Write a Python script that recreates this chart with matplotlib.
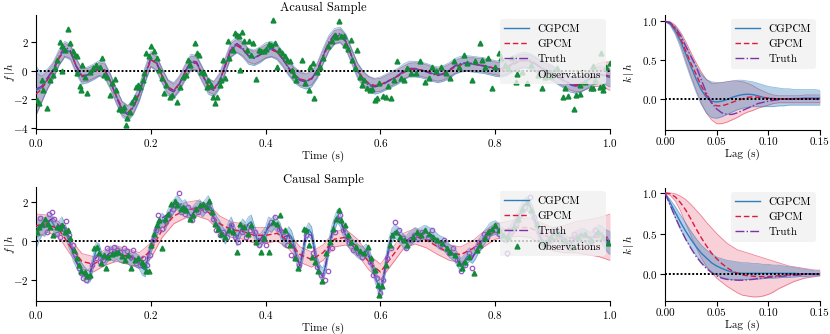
import numpy as np
import matplotlib
matplotlib.use('Agg')
from matplotlib import pyplot as plt

plt.rcParams.update({
    'font.family': 'serif',
    'font.serif': ['cmr10'],
    'mathtext.fontset': 'cm',
    'axes.formatter.use_mathtext': True,
    'font.size': 8,
})

BLUE = '#2f7dbd'
RED = '#e0183c'
PURPLE = '#7d32a8'
GREEN = '#138a3a'
PURPLE_OBS = '#9b59c6'

##### Acausal sample (top), grid step 0.01
cg_top = [-1.4, -1.2, -0.6, 0.0, 0.9, 1.5, 1.3, 0.3, -0.4, -0.3,
          -0.1, 0.15, 0.0, -0.8, -1.8, -2.7, -3.0, -2.5, -1.6, -0.3,
          0.8, 0.5, -0.4, -1.2, -1.4, -0.9, -0.1, 0.6, 0.5, -0.3,
          -1.1, -1.3, -0.7, 0.4, 1.5, 1.8, 1.5, 1.0, 0.9, 1.1,
          1.4, 1.5, 1.3, 0.8, 0.2, -0.3, -0.6, -0.75, -0.6, 0.0,
          1.0, 1.9, 2.4, 2.5, 2.0, 1.0, 0.0, -0.6, -0.95, -1.1,
          -1.0, -0.8, -0.6, -0.4, -0.1, 0.1, 0.1, 0.05, -0.05, -0.2,
          -0.3, -0.2, 0.0, 0.3, 0.45, 0.5, 0.45, 0.4, 0.35, 0.25,
          0.15, 0.1, 0.2, 0.45, 0.65, 0.75, 0.65, 0.45, 0.2, 0.0,
          -0.2, -0.45, -0.7, -0.95, -1.05, -0.95, -0.7, -0.45, -0.3, -0.35,
          -0.5]
gp_top = [-1.65, -1.3, -0.65, 0.0, 0.85, 1.45, 1.3, 0.35, -0.35, -0.3,
          -0.1, 0.1, 0.0, -0.8, -1.8, -2.65, -2.95, -2.5, -1.6, -0.35,
          0.75, 0.5, -0.4, -1.15, -1.4, -0.9, -0.1, 0.55, 0.5, -0.3,
          -1.05, -1.25, -0.7, 0.35, 1.45, 1.75, 1.5, 1.05, 0.9, 1.1,
          1.35, 1.45, 1.3, 0.8, 0.2, -0.3, -0.6, -0.7, -0.55, 0.0,
          0.95, 1.85, 2.35, 2.45, 2.0, 1.0, 0.05, -0.55, -0.9, -1.05,
          -1.0, -0.8, -0.6, -0.4, -0.15, 0.05, 0.1, 0.05, -0.05, -0.2,
          -0.3, -0.2, 0.0, 0.25, 0.4, 0.45, 0.45, 0.4, 0.35, 0.25,
          0.15, 0.1, 0.2, 0.4, 0.6, 0.7, 0.65, 0.45, 0.2, 0.0,
          -0.2, -0.45, -0.7, -0.9, -1.0, -0.9, -0.7, -0.45, -0.3, -0.3,
          -0.4]
truth_top = [-1.3, -1.1, -0.5, 0.1, 1.0, 1.7, 1.4, 0.3, -0.45, -0.3,
             -0.05, 0.25, 0.05, -0.8, -1.9, -2.8, -3.1, -2.6, -1.6, -0.25,
             0.9, 0.6, -0.4, -1.3, -1.5, -0.95, -0.05, 0.7, 0.6, -0.3,
             -1.2, -1.4, -0.75, 0.45, 1.6, 1.9, 1.6, 1.05, 0.85, 1.1,
             1.45, 1.6, 1.35, 0.8, 0.15, -0.35, -0.7, -0.8, -0.6, 0.05,
             1.05, 2.0, 2.55, 2.6, 2.05, 1.0, -0.05, -0.7, -1.05, -1.15,
             -1.05, -0.85, -0.6, -0.35, -0.05, 0.15, 0.15, 0.05, -0.1, -0.25,
             -0.35, -0.25, 0.05, 0.35, 0.5, 0.55, 0.5, 0.4, 0.3, 0.2,
             0.1, 0.1, 0.25, 0.5, 0.75, 0.85, 0.75, 0.5, 0.2, -0.05,
             -0.25, -0.5, -0.75, -1.0, -1.1, -1.0, -0.7, -0.4, -0.25, -0.3,
             -0.5]
cg_sd_top = [1.7, 1.0, 0.7, 0.6] + [0.55] * 93 + [0.55, 0.6, 0.6, 0.65]
gp_sd_top = [1.5, 0.9, 0.6, 0.5] + [0.45] * 90 + [0.5, 0.55, 0.6, 0.7, 0.8, 0.9, 1.0]

obs_top = [(0.002, -2.07), (0.006, -2.3), (0.01, -0.66), (0.013, -1.36), (0.019, -2.66),
           (0.024, -0.66), (0.03, -0.3), (0.033, 0.16), (0.037, 0.75), (0.041, 1.98),
           (0.045, 1.7), (0.046, 0.0), (0.05, 1.46), (0.056, 2.9), (0.059, 1.93),
           (0.064, 1.34), (0.068, 1.1), (0.071, 1.0), (0.072, -0.19), (0.077, -1.08),
           (0.079, -1.36), (0.08, 0.4), (0.085, -0.42), (0.089, -1.55), (0.094, -0.07),
           (0.1, 0.16), (0.105, 0.4), (0.111, 0.28), (0.115, 0.87), (0.118, -0.3),
           (0.123, -0.42), (0.129, -1.72), (0.132, -0.89), (0.137, -0.59), (0.14, -1.36),
           (0.145, -2.73), (0.149, -2.78), (0.153, -2.54), (0.156, -3.84), (0.158, -3.36),
           (0.163, -2.89), (0.168, -2.19), (0.172, -1.84), (0.175, -1.13), (0.178, -1.01),
           (0.181, -1.13), (0.186, -0.66), (0.188, -0.14), (0.192, 1.22), (0.197, 0.99),
           (0.201, 1.7), (0.205, 1.34), (0.21, 0.87), (0.214, 0.05), (0.219, -0.54),
           (0.223, -1.6), (0.227, -1.01), (0.233, -1.84), (0.237, -1.72), (0.245, -2.19),
           (0.25, -1.18), (0.256, -0.42), (0.261, -0.3), (0.265, 0.75), (0.269, 0.4),
           (0.277, 1.93), (0.281, 1.22), (0.284, 1.1), (0.288, -0.07), (0.292, -0.19),
           (0.297, -1.18), (0.3, -0.66), (0.304, -1.01), (0.308, -1.84), (0.312, -2.3),
           (0.316, -1.88), (0.32, -1.01), (0.323, -0.66), (0.326, 0.75), (0.329, -0.54),
           (0.334, 2.05), (0.337, 0.87), (0.343, 1.46), (0.346, 2.64), (0.35, 2.52),
           (0.354, 2.4), (0.356, 0.05), (0.359, 2.7), (0.363, 2.05), (0.368, 1.46),
           (0.371, 2.05), (0.375, 1.1), (0.378, 1.93), (0.384, -0.59), (0.388, 1.46),
           (0.392, 1.34), (0.397, 1.34), (0.401, 1.5), (0.406, 1.86), (0.41, 1.81),
           (0.413, 3.53), (0.417, 1.93), (0.42, 0.28), (0.424, 1.46), (0.429, 1.22),
           (0.433, 0.99), (0.437, 0.75), (0.442, 0.64), (0.446, 0.05), (0.45, -0.3),
           (0.453, -0.66), (0.463, 0.75), (0.469, -0.89), (0.475, -1.36), (0.478, 0.28),
           (0.483, 0.52), (0.485, -1.95), (0.489, -0.07), (0.495, 0.28), (0.5, 0.87),
           (0.509, 1.7), (0.515, 2.05), (0.52, 2.52), (0.523, 2.35), (0.528, 3.46),
           (0.532, 2.45), (0.536, 2.4), (0.539, 1.81), (0.543, 1.5), (0.548, 2.16),
           (0.551, 0.75), (0.555, 0.16), (0.56, 1.46), (0.564, -0.42), (0.568, -1.01),
           (0.572, -0.66), (0.576, -1.25), (0.581, -1.36), (0.586, -1.32), (0.59, -2.07),
           (0.594, -1.95), (0.598, -0.89), (0.604, -1.79), (0.609, -1.84), (0.613, -1.08),
           (0.618, -1.95), (0.624, -0.66), (0.628, 0.64), (0.636, -0.54), (0.641, -0.66),
           (0.647, 0.16), (0.653, -0.19), (0.662, -0.19), (0.669, 0.64), (0.678, -0.78),
           (0.685, -0.54), (0.69, 0.28), (0.697, 0.0), (0.705, 0.28), (0.714, -0.19),
           (0.722, -0.54), (0.728, 0.64), (0.737, 0.28), (0.745, 1.1), (0.751, 0.52),
           (0.76, -0.66), (0.765, 0.64), (0.773, 1.93), (0.777, 0.75), (0.783, 0.28),
           (0.788, 0.87), (0.794, -1.25), (0.8, 0.28), (0.806, 1.22), (0.81, 0.87),
           (0.817, 0.4), (0.823, 0.16), (0.829, 0.87), (0.837, -0.78), (0.846, -0.07),
           (0.855, -0.89), (0.863, 0.4), (0.875, -0.3), (0.882, -1.2), (0.886, -0.42),
           (0.895, -0.07), (0.897, -0.4), (0.907, 0.16), (0.918, -1.84), (0.921, -1.25),
           (0.927, -1.77), (0.937, -2.69), (0.941, -1.72), (0.947, -1.01), (0.948, -1.66),
           (0.956, -0.78), (0.967, -1.25), (0.97, -1.2), (0.97, 0.32), (0.973, -0.66),
           (0.982, -1.13), (0.985, 1.22), (0.987, -1.36), (0.988, -1.08), (0.993, 0.28),
           (1.0, 0.54)]

##### Causal sample (bottom)
# CGPCM mean, grid step 0.005
cg_bot = [0.3, 0.6, 0.8, 0.7, 0.9, 1.1, 0.9, 0.6, 0.7, 0.9,
          0.6, 0.2, -0.2, -0.7, -1.0, -1.3, -1.5, -1.7, -1.85, -1.7,
          -1.0, -0.4, -0.5, -1.0, -0.9, -0.7, -0.6, -0.7, -0.6, -0.7,
          -0.8, -0.75, -0.8, -1.0, -0.9, -1.0, -1.1, -1.4, -1.5, -0.9,
          -0.3, 0.2, 0.6, 0.9, 1.1, 0.9, 1.3, 1.6, 1.8, 2.0,
          1.9, 1.7, 1.8, 1.5, 1.3, 1.5, 1.7, 1.8, 1.6, 1.8,
          2.0, 1.7, 1.2, 0.9, 0.7, 0.4, 0.2, 0.6, 0.9, 0.5,
          0.1, 0.5, 0.8, 0.6, 0.9, 1.0, 0.5, 0.1, 0.0, 0.2,
          0.4, 0.9, 0.8, 1.0, 0.8, 0.6, 0.1, 0.0, 0.4, 0.2,
          -0.3, -1.0, -1.25, -0.6, 0.3, 0.6, 0.4, -0.4, -1.2, -1.6,
          -1.75, -1.2, -0.3, 0.4, 0.9, 1.3, 1.1, 0.6, 0.3, 0.0,
          -0.2, -0.35, -0.5, -0.6, -0.65, -0.5, -0.7, -1.2, -1.7, -2.2,
          -2.6, -2.0, -1.0, -0.2, 0.3, 0.5, 0.4, 0.2, 0.0, -0.1,
          0.1, 0.2, 0.35, 0.3, 0.35, 0.45, 0.45, 0.35, 0.3, 0.15,
          0.0, -0.1, -0.15, -0.3, -0.5, -0.6, -0.75, -1.0, -1.25, -1.1,
          -0.85, -0.7, -0.8, -0.6, -0.3, -0.1, 0.15, 0.35, 0.55, 0.65,
          0.7, 0.6, 0.4, 0.3, 0.25, 0.4, 0.65, 0.9, 1.2, 1.55,
          1.8, 1.95, 1.8, 1.5, 1.0, 0.5, 0.1, -0.1, -0.05, 0.15,
          0.3, 0.35, 0.3, 0.2, 0.05, -0.1, -0.15, 0.0, 0.15, 0.25,
          0.3, 0.3, 0.2, 0.1, 0.2, 0.35, 0.45, 0.35, 0.15, 0.0,
          -0.1]
cg_sd_bot = [0.7, 0.6, 0.5, 0.45, 0.4] + [0.35] * 191 + [0.4, 0.45, 0.5, 0.55, 0.6]
# truth, grid step 0.01
truth_bot = [0.5, 0.9, 1.0, 1.2, 0.8, 0.8, -0.1, -1.1, -1.6, -1.95,
             -1.1, -0.6, -0.9, -0.55, -0.5, -0.7, -0.75, -0.85, -1.1, -1.4,
             -0.2, 0.7, 1.2, 1.4, 1.9, 2.0, 1.7, 1.3, 1.7, 1.7,
             2.0, 1.1, 0.6, 0.3, 0.8, 0.2, 0.7, 0.85, 0.4, 0.05,
             0.5, 0.9, 0.9, 0.2, 0.3, -0.4, -1.3, 0.4, 0.3, -1.3,
             -1.9, -0.4, 1.0, 1.2, 0.2, -0.2, -0.5, -0.7, -0.8, -1.8,
             -2.7, -1.1, 0.4, 0.5, 0.0, 0.1, 0.4, 0.3, 0.5, 0.3,
             0.0, -0.2, -0.5, -0.8, -1.3, -0.9, -0.9, -0.3, 0.2, 0.6,
             0.75, 0.4, 0.2, 0.7, 1.3, 1.9, 1.9, 1.0, 0.1, -0.1,
             0.35, 0.3, 0.1, -0.2, 0.2, 0.35, 0.2, 0.2, 0.5, 0.2,
             -0.1]
# GPCM mean, grid step 0.02
gp_bot = [0.8, 0.9, 0.6, -0.3, -1.05, -1.2, -0.85, -0.65, -0.8, -1.0,
          -0.5, 0.6, 1.3, 1.6, 1.7, 1.5, 0.9, 0.6, 0.5, 0.3,
          0.3, 0.4, 0.0, -0.7, -0.95, -0.6, 0.1, 0.2, -0.3, -1.1,
          -1.6, -0.8, 0.0, 0.25, 0.05, -0.3, -0.6, -0.7, -0.4, 0.1,
          0.5, 0.6, 0.7, 0.7, 0.4, 0.1, 0.1, 0.2, 0.2, 0.2,
          0.2]
gp_sd_bot = [0.6, 0.45] + [0.4] * 40 + [0.45, 0.5, 0.55, 0.6, 0.7, 0.8, 0.9, 1.0, 1.2]

obs_bot = [(0.001, 0.48), (0.006, 0.74), (0.01, 0.9), (0.016, 1.16), (0.021, 0.9),
           (0.024, 0.74), (0.03, 0.31), (0.036, 0.74), (0.041, 0.68), (0.045, 0.82),
           (0.05, 0.48), (0.055, 0.56), (0.06, 0.14), (0.066, -0.46), (0.071, -0.89),
           (0.075, -1.23), (0.079, -1.57), (0.085, -1.61), (0.089, -1.83), (0.094, -1.74),
           (0.101, -0.34), (0.106, -0.29), (0.11, -0.63), (0.114, -1.15), (0.118, -0.72),
           (0.122, -1.4), (0.126, -0.8), (0.132, -0.68), (0.137, -0.63), (0.143, -0.58),
           (0.149, -0.75), (0.155, -0.97), (0.161, -0.72), (0.166, -1.4), (0.172, -0.97),
           (0.178, -0.89), (0.184, -1.06), (0.188, -1.23), (0.192, -1.54), (0.197, -1.57),
           (0.201, -0.21), (0.205, 0.39), (0.21, 0.85), (0.214, 1.08), (0.219, -0.38),
           (0.224, 1.16), (0.23, 1.42), (0.236, 1.93), (0.242, 2.1), (0.246, 1.85),
           (0.252, 1.68), (0.256, 1.76), (0.262, 1.59), (0.268, 1.16), (0.274, 1.33),
           (0.279, 1.68), (0.285, 1.85), (0.291, 1.93), (0.297, 1.76), (0.301, 2.1),
           (0.306, 1.5), (0.311, 0.9), (0.317, 0.65), (0.323, 0.39), (0.329, 0.22),
           (0.336, 0.56), (0.343, 0.48), (0.35, -0.58), (0.355, 0.9), (0.362, 0.74),
           (0.369, 0.39), (0.375, 0.82), (0.384, -0.03), (0.392, -0.58), (0.398, 0.14),
           (0.406, -0.58), (0.413, 0.99), (0.42, 0.9), (0.425, 1.33), (0.434, 0.56),
           (0.443, -0.21), (0.451, -0.89), (0.457, -1.4), (0.466, 0.65), (0.471, 0.56),
           (0.476, -0.21), (0.48, -0.8), (0.486, -1.06), (0.492, -1.57), (0.499, -2.09),
           (0.506, -0.63), (0.512, -0.03), (0.518, 0.65), (0.523, 1.16), (0.527, 1.59),
           (0.532, 1.08), (0.538, 0.82), (0.544, 0.31), (0.549, -0.03), (0.557, -0.29),
           (0.564, -0.51), (0.572, -0.63), (0.578, -0.29), (0.584, -0.89), (0.59, -1.49),
           (0.595, -2.26), (0.598, -2.77), (0.603, -2.34), (0.609, -1.23), (0.616, -0.21),
           (0.621, 0.31), (0.627, 0.48), (0.634, 0.22), (0.641, 0.05), (0.647, -0.21),
           (0.656, 0.22), (0.663, 0.48), (0.67, 0.31), (0.678, 0.56), (0.685, 0.39),
           (0.692, 0.22), (0.699, 0.05), (0.708, -0.12), (0.716, -0.38), (0.722, -0.55),
           (0.73, -0.72), (0.737, -1.15), (0.742, -1.4), (0.748, -1.06), (0.755, -0.8),
           (0.763, -1.66), (0.768, -0.46), (0.774, -0.21), (0.782, 0.14), (0.787, 0.48),
           (0.794, 0.65), (0.8, 0.82), (0.807, 0.56), (0.814, 0.31), (0.823, 0.22),
           (0.832, 0.74), (0.839, 1.16), (0.846, 1.68), (0.855, 2.02), (0.863, 1.59),
           (0.872, 0.9), (0.881, -0.03), (0.889, -0.12), (0.898, 0.22), (0.91, 0.39),
           (0.921, 0.05), (0.933, -0.29), (0.944, 0.22), (0.956, 0.39), (0.967, 0.05),
           (0.979, 0.48), (0.987, 0.22), (0.996, -0.12)]

# second set of samples, hollow purple circles
pts_bot = [(0.001, 0.65), (0.007, 1.2), (0.013, 0.82), (0.019, 0.48), (0.023, 1.42),
           (0.027, 1.5), (0.031, 1.16), (0.036, 0.39), (0.042, 0.22), (0.048, 0.65),
           (0.052, 1.03), (0.058, 0.31), (0.064, -0.21), (0.068, -0.68), (0.074, -1.4),
           (0.078, -1.66), (0.082, -1.91), (0.087, -2.0), (0.092, -1.88), (0.097, -1.23),
           (0.104, -0.89), (0.111, -1.06), (0.117, -0.97), (0.124, -0.38), (0.13, -0.51),
           (0.136, -0.29), (0.141, -0.46), (0.147, -0.58), (0.153, -0.38), (0.159, -0.51),
           (0.165, -0.8), (0.169, -0.46), (0.175, -1.15), (0.181, -1.23), (0.187, -0.89),
           (0.194, -1.23), (0.198, -0.72), (0.203, 0.05), (0.209, 0.56), (0.213, 1.33),
           (0.22, 0.65), (0.227, 0.99), (0.232, 1.33), (0.238, 1.68), (0.243, 1.93),
           (0.249, 2.5), (0.253, 1.5), (0.259, 1.42), (0.265, 1.76), (0.271, 1.08),
           (0.277, 1.68), (0.282, 1.5), (0.288, 1.76), (0.294, 1.59), (0.3, 1.85),
           (0.308, 1.16), (0.314, 0.56), (0.32, 0.31), (0.326, 0.48), (0.332, 0.22),
           (0.339, 0.82), (0.346, 0.22), (0.352, -0.03), (0.359, 0.48), (0.366, 0.22),
           (0.373, 0.56), (0.381, 0.48), (0.388, -0.21), (0.395, 0.05), (0.401, -0.21),
           (0.41, 0.99), (0.416, 1.25), (0.423, 0.65), (0.43, 0.48), (0.437, -0.21),
           (0.445, -0.72), (0.452, -0.89), (0.458, -1.23), (0.47, 0.31), (0.483, -0.63),
           (0.49, -1.32), (0.496, -1.74), (0.503, -2.0), (0.509, -1.57), (0.515, -0.38),
           (0.52, 0.48), (0.53, 1.33), (0.535, 0.56), (0.541, 0.14), (0.546, -0.12),
           (0.553, -0.46), (0.561, -0.63), (0.568, -0.8), (0.575, -0.55), (0.581, -1.06),
           (0.587, -1.74), (0.594, -1.91), (0.599, -2.68), (0.605, -2.0), (0.611, -0.89),
           (0.618, -0.38), (0.626, 0.99), (0.632, 0.56), (0.639, 0.14), (0.644, -0.38),
           (0.652, 0.05), (0.659, 0.31), (0.666, 0.14), (0.673, 0.48), (0.682, 0.22),
           (0.689, 0.56), (0.696, 0.05), (0.703, -0.21), (0.711, 0.05), (0.719, -0.63),
           (0.726, -0.38), (0.734, -0.97), (0.741, -1.57), (0.747, -1.23), (0.754, -0.63),
           (0.76, -1.4), (0.767, -0.38), (0.772, -0.03), (0.78, 0.39), (0.786, 0.22),
           (0.791, 0.48), (0.799, 0.56), (0.806, 0.39), (0.813, 0.14), (0.82, -0.63),
           (0.828, 0.48), (0.836, 0.9), (0.843, 1.33), (0.852, 1.76), (0.861, 2.27),
           (0.868, 1.25), (0.876, 0.48), (0.885, -0.29), (0.893, 0.05), (0.904, 0.48),
           (0.915, 0.22), (0.927, -0.21), (0.938, 0.39), (0.95, 0.31), (0.961, -0.03),
           (0.973, 0.56), (0.983, 0.39), (0.993, 0.05)]

##### Kernels, lag step 0.005
k_cg_top = [1.0, 0.97, 0.88, 0.75, 0.58, 0.42, 0.26, 0.12, 0.02, -0.03, -0.04,
            -0.03, -0.01, 0.02, 0.04, 0.055, 0.06, 0.055, 0.04, 0.02, 0.01,
            0.0, 0.0, 0.0, 0.0, 0.005, 0.005, 0.01, 0.01, 0.01, 0.01]
k_cg_top_hi = [1.0, 0.99, 0.93, 0.83, 0.7, 0.56, 0.43, 0.32, 0.25, 0.22, 0.21,
               0.21, 0.22, 0.23, 0.24, 0.24, 0.23, 0.22, 0.2, 0.18, 0.16,
               0.15, 0.14, 0.13, 0.13, 0.12, 0.12, 0.12, 0.12, 0.12, 0.11]
k_cg_top_lo = [1.0, 0.95, 0.83, 0.66, 0.46, 0.27, 0.09, -0.07, -0.18, -0.24, -0.25,
               -0.23, -0.2, -0.17, -0.14, -0.12, -0.11, -0.1, -0.1, -0.1, -0.1,
               -0.1, -0.09, -0.09, -0.08, -0.08, -0.08, -0.08, -0.08, -0.08, -0.08]
k_gp_top = [1.0, 0.98, 0.9, 0.78, 0.62, 0.46, 0.32, 0.17, 0.05, -0.05, -0.09,
            -0.09, -0.07, -0.045, -0.02, 0.0, 0.02, 0.025, 0.02, 0.015, 0.01,
            0.005, 0.0, 0.0, -0.005, -0.005, 0.0, 0.0, 0.0, 0.0, 0.0]
k_gp_top_hi = [1.0, 0.995, 0.95, 0.86, 0.74, 0.6, 0.47, 0.35, 0.25, 0.2, 0.2,
               0.21, 0.22, 0.23, 0.23, 0.22, 0.2, 0.17, 0.13, 0.1, 0.07,
               0.05, 0.04, 0.04, 0.04, 0.04, 0.04, 0.05, 0.05, 0.05, 0.05]
k_gp_top_lo = [1.0, 0.96, 0.85, 0.7, 0.5, 0.3, 0.12, -0.05, -0.18, -0.27, -0.32,
               -0.32, -0.3, -0.27, -0.24, -0.2, -0.17, -0.15, -0.12, -0.1, -0.08,
               -0.06, -0.05, -0.05, -0.05, -0.05, -0.05, -0.05, -0.05, -0.05, -0.05]
k_true_top = [1.0, 0.98, 0.92, 0.82, 0.68, 0.55, 0.42, 0.25, 0.08, -0.05, -0.13,
              -0.18, -0.2, -0.2, -0.18, -0.15, -0.12, -0.09, -0.06, -0.045, -0.03,
              -0.02, -0.01, 0.0, 0.0, 0.0, 0.0, 0.0, 0.0, 0.0, 0.0]

k_cg_bot = [1.0, 0.88, 0.76, 0.64, 0.53, 0.43, 0.34, 0.26, 0.2, 0.14, 0.1,
            0.07, 0.045, 0.025, 0.015, 0.01, 0.01, 0.01, 0.01, 0.01, 0.01,
            0.01, 0.01, 0.01, 0.01, 0.01, 0.005, 0.005, 0.005, 0.005, 0.005]
k_cg_bot_hi = [1.0, 0.92, 0.83, 0.73, 0.63, 0.53, 0.44, 0.36, 0.3, 0.25, 0.21,
               0.19, 0.17, 0.16, 0.15, 0.14, 0.14, 0.13, 0.13, 0.12, 0.12,
               0.11, 0.11, 0.1, 0.09, 0.08, 0.07, 0.06, 0.05, 0.04, 0.04]
k_cg_bot_lo = [1.0, 0.84, 0.69, 0.55, 0.43, 0.33, 0.23, 0.15, 0.08, 0.03, -0.01,
               -0.04, -0.06, -0.07, -0.07, -0.07, -0.065, -0.06, -0.06, -0.055, -0.05,
               -0.05, -0.045, -0.04, -0.04, -0.035, -0.03, -0.03, -0.025, -0.02, -0.02]
k_gp_bot = [1.0, 0.99, 0.95, 0.88, 0.79, 0.68, 0.56, 0.45, 0.35, 0.26, 0.19,
            0.13, 0.08, 0.04, 0.01, -0.01, -0.02, -0.025, -0.03, -0.03, -0.03,
            -0.025, -0.02, -0.015, -0.01, -0.005, 0.0, 0.0, 0.0, 0.0, 0.0]
k_gp_bot_hi = [1.0, 1.0, 0.99, 0.96, 0.92, 0.86, 0.79, 0.72, 0.64, 0.57, 0.5,
               0.44, 0.38, 0.34, 0.3, 0.28, 0.26, 0.24, 0.22, 0.2, 0.18,
               0.16, 0.14, 0.12, 0.1, 0.09, 0.08, 0.07, 0.06, 0.05, 0.05]
k_gp_bot_lo = [1.0, 0.97, 0.9, 0.78, 0.62, 0.48, 0.33, 0.2, 0.1, 0.02, -0.05,
               -0.1, -0.15, -0.19, -0.23, -0.26, -0.27, -0.28, -0.28, -0.27, -0.25,
               -0.22, -0.18, -0.15, -0.12, -0.09, -0.07, -0.05, -0.04, -0.03, -0.02]
k_true_bot = [1.0, 0.85, 0.7, 0.56, 0.43, 0.32, 0.22, 0.14, 0.07, 0.02, -0.02,
              -0.05, -0.065, -0.07, -0.075, -0.075, -0.07, -0.065, -0.055, -0.05, -0.04,
              -0.035, -0.03, -0.025, -0.02, -0.015, -0.01, -0.005, 0.0, 0.0, 0.0]


def grid(vals, step):
    return np.arange(len(vals)) * step


def band(ax, x, lo, hi, color, alpha):
    ax.fill_between(x, lo, hi, color=color, alpha=alpha, lw=0, zorder=1)
    ax.plot(x, lo, color=color, lw=0.6, alpha=0.5, zorder=1)
    ax.plot(x, hi, color=color, lw=0.6, alpha=0.5, zorder=1)


def style_axes(ax):
    for s in ['top', 'right']:
        ax.spines[s].set_visible(False)
    ax.tick_params(direction='out', length=3.5, width=0.8, pad=2)
    ax.axhline(0, color='k', ls=(0, (1, 1)), lw=1.4, zorder=4)


def plot_sample(ax, t_cg, cg, cg_sd, t_gp, gp, gp_sd, t_tr, tr, obs, title, extra=None):
    cg, cg_sd, gp, gp_sd = map(np.array, (cg, cg_sd, gp, gp_sd))
    band(ax, t_gp, gp - gp_sd, gp + gp_sd, RED, 0.2)
    band(ax, t_cg, cg - cg_sd, cg + cg_sd, BLUE, 0.35)
    ax.plot(t_cg, cg, color=BLUE, lw=1.0, label='CGPCM', zorder=3)
    ax.plot(t_gp, gp, color=RED, lw=1.0, ls=(0, (4, 2)), label='GPCM', zorder=3)
    ax.plot(t_tr, tr, color=PURPLE, lw=1.0, ls='-.', label='Truth', zorder=3)
    style_axes(ax)
    if extra is not None:
        e = np.array(extra)
        ax.plot(e[:, 0], e[:, 1], 'o', ms=3.2, mfc='none', mec=PURPLE_OBS, mew=0.9, zorder=5)
    o = np.array(obs)
    ax.plot(o[:, 0], o[:, 1], '^', ms=3.5, color=GREEN, ls='none', label='Observations', zorder=6)
    ax.set_xlim(0, 1)
    ax.set_xticks([0, 0.2, 0.4, 0.6, 0.8, 1.0])
    ax.set_xlabel('Time (s)', labelpad=1.5)
    ax.set_ylabel(r'$f\,|\,h$')
    ax.yaxis.set_label_coords(-0.034, 0.5)
    ax.set_title(title, fontsize=9, pad=3)
    leg = ax.legend(loc='upper right', facecolor='#f0f0f0', edgecolor='none',
                    framealpha=0.8, fontsize=8, handlelength=2.2, borderaxespad=0.4)
    leg.set_zorder(10)


def plot_kernel(ax, cg, cg_lo, cg_hi, gp, gp_lo, gp_hi, tr):
    lag = grid(cg, 0.005)
    band(ax, lag, gp_lo, gp_hi, RED, 0.2)
    band(ax, lag, cg_lo, cg_hi, BLUE, 0.35)
    ax.plot(lag, cg, color=BLUE, lw=1.0, label='CGPCM', zorder=3)
    ax.plot(lag, gp, color=RED, lw=1.0, ls=(0, (4, 2)), label='GPCM', zorder=3)
    ax.plot(lag, tr, color=PURPLE, lw=1.0, ls='-.', label='Truth', zorder=3)
    style_axes(ax)
    ax.set_xlim(0, 0.15)
    ax.set_xticks([0, 0.05, 0.1, 0.15])
    ax.set_xticklabels(['0.00', '0.05', '0.10', '0.15'])
    ax.set_yticks([0, 0.5, 1.0])
    ax.set_xlabel('Lag (s)', labelpad=1.5)
    ax.set_ylabel(r'$k\,|\,h$')
    ax.yaxis.set_label_coords(-0.19, 0.5)
    ax.legend(loc='upper right', facecolor='#f0f0f0', edgecolor='none',
              framealpha=0.8, fontsize=8, handlelength=2.2, borderaxespad=0.4)


fig = plt.figure(figsize=(8.3, 3.34), dpi=100)
ax1 = fig.add_axes([0.0434, 0.614, 0.6916, 0.341])
ax2 = fig.add_axes([0.8012, 0.611, 0.1867, 0.344])
ax3 = fig.add_axes([0.0434, 0.099, 0.6916, 0.341])
ax4 = fig.add_axes([0.8012, 0.099, 0.1867, 0.338])

plot_sample(ax1, grid(cg_top, 0.01), cg_top, cg_sd_top, grid(gp_top, 0.01), gp_top, gp_sd_top,
            grid(truth_top, 0.01), truth_top, obs_top, 'Acausal Sample')
ax1.set_ylim(-4.1, 3.9)
ax1.set_yticks([-4, -2, 0, 2])

plot_sample(ax3, grid(cg_bot, 0.005), cg_bot, cg_sd_bot, grid(gp_bot, 0.02), gp_bot, gp_sd_bot,
            grid(truth_bot, 0.01), truth_bot, obs_bot, 'Causal Sample', extra=pts_bot)
ax3.set_ylim(-3.1, 2.8)
ax3.set_yticks([-2, 0, 2])

plot_kernel(ax2, k_cg_top, k_cg_top_lo, k_cg_top_hi, k_gp_top, k_gp_top_lo, k_gp_top_hi, k_true_top)
ax2.set_ylim(-0.4, 1.08)
plot_kernel(ax4, k_cg_bot, k_cg_bot_lo, k_cg_bot_hi, k_gp_bot, k_gp_bot_lo, k_gp_bot_hi, k_true_bot)
ax4.set_ylim(-0.33, 1.06)

fig.savefig('out.png', dpi=100)
